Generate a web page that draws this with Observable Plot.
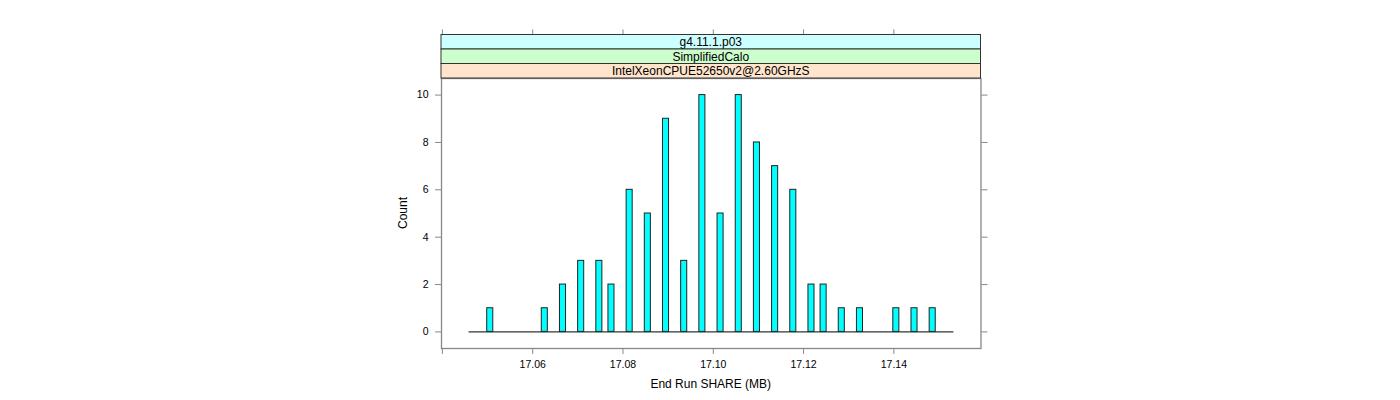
<!DOCTYPE html>
<html><head><meta charset="utf-8">
<script src="https://cdn.jsdelivr.net/npm/d3@7"></script>
<script src="https://cdn.jsdelivr.net/npm/@observablehq/plot@0.6"></script>
<style>body{margin:0;background:#fff} svg{display:block}</style>
</head><body><div id="chart"></div>
<script>
// ---- data ----
const shareValues = [17.0508, 17.0625, 17.0664, 17.0703, 17.0742, 17.0781, 17.0820, 17.0859,
  17.0898, 17.0938, 17.0977, 17.1016, 17.1055, 17.1094, 17.1133, 17.1172, 17.1211, 17.1250,
  17.1289, 17.1328, 17.1406, 17.1445, 17.1484];
const counts = [1, 1, 2, 3, 3, 2, 6, 5, 9, 3, 10, 5, 10, 8, 7, 6, 2, 2, 1, 1, 1, 1, 1];
const breaksRange = [17.0459, 17.1533];
const nBins = 80;
const xDomain = [17.0398, 17.1593];
const yDomain = [-0.7, 10.7];
const xTicks = [17.04, 17.06, 17.08, 17.10, 17.12, 17.14];
const xTickLabels = ["", "17.06", "17.08", "17.10", "17.12", "17.14"];
const yTicks = [0, 2, 4, 6, 8, 10];
const stripLabels = ["g4.11.1.p03", "SimplifiedCalo", "IntelXeonCPUE52650v2@2.60GHzS"];
const stripColors = ["#ccffff", "#ccffcc", "#ffe5cc"];
const xLabel = "End Run SHARE (MB)";
const yLabel = "Count";

// ---- layout ----
const W = 1400, H = 400;
const mL = 441, mR = 419.5, mT = 78, mB = 52;
const stripTop = 34.5;
const axisCol = "#888";
const font = "'Liberation Sans', Arial, Helvetica, sans-serif";

const binW = (breaksRange[1] - breaksRange[0]) / nBins;
const rows = shareValues.map((v, i) => {
  const x1 = breaksRange[0] + Math.floor((v - breaksRange[0]) / binW) * binW;
  return {value: v, count: counts[i], x1, x2: x1 + binW};
});
const labelOf = new Map(xTicks.map((t, i) => [t, xTickLabels[i]]));

const chart = Plot.plot({
  width: W, height: H,
  marginLeft: mL, marginRight: mR, marginTop: mT, marginBottom: mB,
  style: {fontFamily: font, fontSize: "10.5px", background: "white", overflow: "visible", color: "black"},
  x: {domain: xDomain, axis: null},
  y: {domain: yDomain, axis: null},
  marks: [
    Plot.ruleY([0], {x1: breaksRange[0], x2: breaksRange[1], stroke: "black", strokeWidth: 1}),
    Plot.rectY(rows, {x1: "x1", x2: "x2", y: "count", fill: "#00ffff", stroke: "#222", strokeWidth: 1}),
    Plot.frame({stroke: axisCol, strokeWidth: 1.3}),
    Plot.axisX({anchor: "bottom", ticks: xTicks, tickSize: 6, tickPadding: 6, stroke: axisCol,
      tickFormat: d => labelOf.get(d), label: null, fill: "black"}),
    Plot.axisX({anchor: "top", ticks: xTicks, tickSize: 6, stroke: axisCol, dy: stripTop - mT,
      tickFormat: () => "", label: null}),
    Plot.axisY({anchor: "left", ticks: yTicks, tickSize: 6, tickPadding: 7, stroke: axisCol,
      tickFormat: d => String(d), label: null, fill: "black"}),
    Plot.axisY({anchor: "right", ticks: yTicks, tickSize: 6, stroke: axisCol,
      tickFormat: () => "", label: null})
  ]
});
document.getElementById("chart").appendChild(chart);

// ---- strips & axis titles ----
const svg = d3.select(chart);
const xs = chart.scale("x").range;
const stripH = (mT - stripTop) / stripLabels.length;
const g = svg.append("g").attr("font-family", font).attr("font-size", 12);
stripLabels.forEach((lab, i) => {
  const y0 = stripTop + i * stripH;
  g.append("rect").attr("x", xs[0]).attr("y", y0).attr("width", xs[1] - xs[0]).attr("height", stripH)
    .attr("fill", stripColors[i]).attr("stroke", "#333").attr("stroke-width", 1);
  g.append("text").attr("x", (xs[0] + xs[1]) / 2).attr("y", y0 + stripH / 2).attr("dy", "0.36em")
    .attr("text-anchor", "middle").attr("fill", "black").text(lab);
});
g.append("text").attr("x", (xs[0] + xs[1]) / 2).attr("y", 387.5).attr("text-anchor", "middle")
  .attr("fill", "black").text(xLabel);
const yr = chart.scale("y").range;
g.append("text").attr("transform", `translate(407,${(yr[0] + yr[1]) / 2}) rotate(-90)`)
  .attr("text-anchor", "middle").attr("fill", "black").text(yLabel);
</script>
</body></html>
